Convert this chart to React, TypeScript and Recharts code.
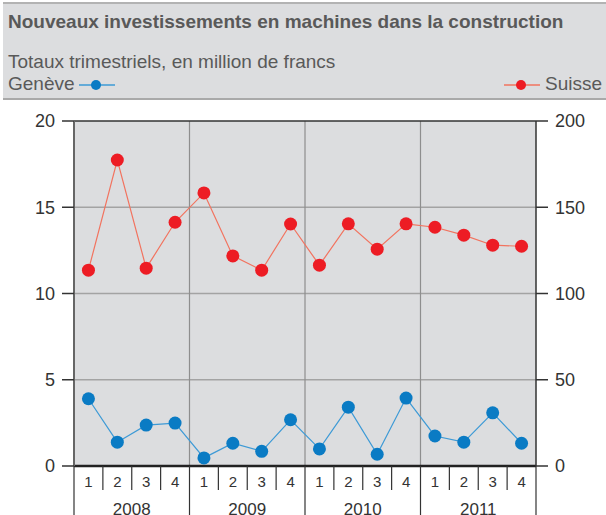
import React from 'react';
import {
  LineChart,
  Line,
  XAxis,
  YAxis,
  ReferenceLine,
  ReferenceArea,
} from 'recharts';

const years = ['2008', '2009', '2010', '2011'];
const quarters = ['1', '2', '3', '4'];
const geneve = [3.9, 1.38, 2.37, 2.49, 0.47, 1.32, 0.85, 2.68, 0.99, 3.41, 0.68, 3.94, 1.74, 1.38, 3.08, 1.32];
const suisse = [113.5, 177.4, 114.7, 141.3, 158.3, 121.8, 113.5, 140.3, 116.4, 140.4, 125.7, 140.4, 138.4, 133.8, 128, 127.4];
const leftTicks = [0, 5, 10, 15, 20];
const rightTicks = [0, 50, 100, 150, 200];

const nQ = years.length * quarters.length;
const data = geneve.map((g, i) => ({ x: i + 0.5, g, s: suisse[i] }));
const xTicks: number[] = [];
for (let i = 0; i <= nQ; i++) {
  xTicks.push(i);
  if (i < nQ) xTicks.push(i + 0.5);
}

const FONT = '"Liberation Sans", Arial, sans-serif';

const XTick = (props: any) => {
  const { x, y, payload } = props;
  const v = payload.value as number;
  if (Number.isInteger(v)) {
    const isYear = v % quarters.length === 0;
    const yearIdx = (v - 2) / quarters.length;
    return (
      <g>
        <line x1={x} x2={x} y1={y} y2={y + (isYear ? 50 : 24)} stroke="#333" strokeWidth={1.2} />
        {v % quarters.length === 2 && Number.isInteger(yearIdx) && years[yearIdx] ? (
          <text x={x} y={y + 49} textAnchor="middle" fontSize={17} fill="#333" fontFamily={FONT}>
            {years[yearIdx]}
          </text>
        ) : null}
      </g>
    );
  }
  const qi = Math.floor(v) % quarters.length;
  return (
    <text x={x} y={y + 21} textAnchor="middle" fontSize={15} fill="#333" fontFamily={FONT}>
      {quarters[qi]}
    </text>
  );
};

const LegendIcon = ({ line, dot }: { line: string; dot: string }) => (
  <svg width={36} height={14} style={{ display: 'block' }}>
    <line x1={0} x2={36} y1={7} y2={7} stroke={line} strokeWidth={1.3} />
    <circle cx={17} cy={7} r={5} fill={dot} />
  </svg>
);

export default function App() {
  return (
    <div style={{ position: 'absolute', left: 0, top: 0, width: 606, height: 515, background: '#fff', fontFamily: FONT }}>
      <div
        style={{
          position: 'absolute',
          left: 3,
          top: 2,
          width: 603,
          height: 94,
          background: '#dcdddf',
          borderTop: '2px solid #b3b3b3',
          borderBottom: '2px solid #a9a9a9',
        }}
      />
      <div style={{ position: 'absolute', left: 8, top: 11, fontSize: 19, fontWeight: 'bold', color: '#595959', lineHeight: '22px', whiteSpace: 'nowrap' }}>
        Nouveaux investissements en machines dans la construction
      </div>
      <div style={{ position: 'absolute', left: 8, top: 51, fontSize: 19, color: '#595959', lineHeight: '22px', whiteSpace: 'nowrap' }}>
        Totaux trimestriels, en million de francs
      </div>
      <div style={{ position: 'absolute', left: 8, top: 73, fontSize: 19, color: '#595959', lineHeight: '22px', whiteSpace: 'nowrap' }}>
        Genève
      </div>
      <div style={{ position: 'absolute', left: 79, top: 78 }}>
        <LegendIcon line="#3d9ad6" dot="#0a7bc4" />
      </div>
      <div style={{ position: 'absolute', left: 504, top: 78 }}>
        <LegendIcon line="#f2735f" dot="#ed1c24" />
      </div>
      <div style={{ position: 'absolute', left: 545, top: 73, fontSize: 19, color: '#595959', lineHeight: '22px', whiteSpace: 'nowrap' }}>
        Suisse
      </div>

      <div style={{ position: 'absolute', left: 0, top: 0 }}>
        <LineChart width={606} height={515} data={data} margin={{ top: 121, right: 0, bottom: 0, left: 0 }}>
          <XAxis
            xAxisId="x"
            dataKey="x"
            type="number"
            domain={[0, nQ]}
            ticks={xTicks}
            interval={0}
            height={49}
            tickLine={false}
            tickSize={0}
            tickMargin={0}
            axisLine={{ stroke: '#222', strokeWidth: 2.5 }}
            tick={<XTick />}
          />
          <YAxis
            yAxisId="l"
            orientation="left"
            domain={[0, 20]}
            ticks={leftTicks}
            interval={0}
            width={74}
            tickSize={12}
            tickMargin={7}
            axisLine={{ stroke: '#666', strokeWidth: 2 }}
            tickLine={{ stroke: '#333', strokeWidth: 1.5 }}
            tick={{ fontSize: 18, fill: '#333', fontFamily: FONT }}
          />
          <YAxis
            yAxisId="r"
            orientation="right"
            domain={[0, 200]}
            ticks={rightTicks}
            interval={0}
            width={70}
            tickSize={12}
            tickMargin={7}
            axisLine={{ stroke: '#333', strokeWidth: 1.5 }}
            tickLine={{ stroke: '#333', strokeWidth: 1.5 }}
            tick={{ fontSize: 18, fill: '#333', fontFamily: FONT }}
          />
          <ReferenceArea xAxisId="x" yAxisId="l" x1={0} x2={nQ} y1={0} y2={20} fill="#dcdddf" fillOpacity={1} stroke="none" />
          {[5, 10, 15].map((v) => (
            <ReferenceLine key={'h' + v} xAxisId="x" yAxisId="l" y={v} stroke="#a3a3a3" strokeWidth={1.5} />
          ))}
          {[4, 8, 12].map((v) => (
            <ReferenceLine key={'v' + v} xAxisId="x" yAxisId="l" x={v} stroke="#8e8e8e" strokeWidth={1.2} />
          ))}
          <ReferenceLine xAxisId="x" yAxisId="l" y={20} stroke="#333" strokeWidth={1.3} />
          <Line
            xAxisId="x"
            yAxisId="r"
            dataKey="s"
            stroke="#f2735f"
            strokeWidth={1.2}
            dot={{ r: 6.5, fill: '#ed1c24', stroke: 'none' }}
            activeDot={false}
            isAnimationActive={false}
          />
          <Line
            xAxisId="x"
            yAxisId="l"
            dataKey="g"
            stroke="#3d9ad6"
            strokeWidth={1.2}
            dot={{ r: 6.5, fill: '#0a7bc4', stroke: 'none' }}
            activeDot={false}
            isAnimationActive={false}
          />
        </LineChart>
      </div>
    </div>
  );
}
